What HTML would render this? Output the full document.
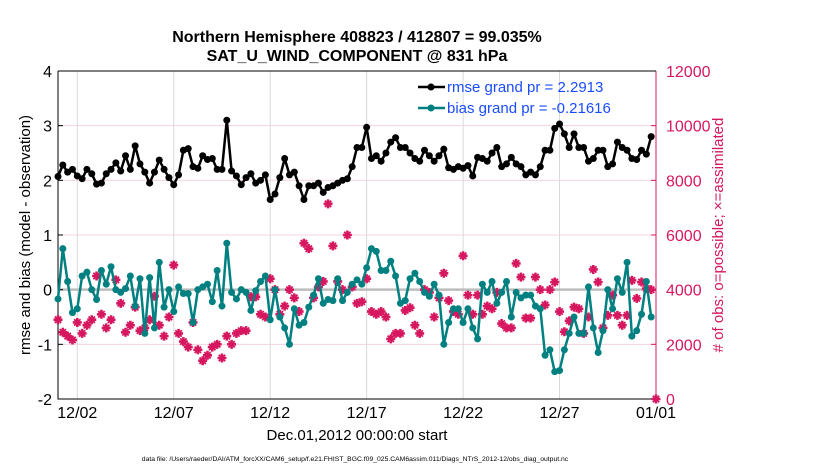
<!DOCTYPE html>
<html><head><meta charset="utf-8">
<style>
body{margin:0;background:#fff;}
svg{display:block;font-family:"Liberation Sans",Arial,sans-serif;}
</style></head>
<body>
<svg id="chart" width="830" height="470" viewBox="0 0 830 470" xmlns="http://www.w3.org/2000/svg">
<rect width="830" height="470" fill="#fff"/>
<g id="grid"></g>
<g id="axes"></g>
<g id="marks"></g>
<text x="357" y="42" text-anchor="middle" font-size="16" font-weight="bold">Northern Hemisphere 408823 / 412807 = 99.035%</text>
<text x="357" y="61" text-anchor="middle" font-size="16" font-weight="bold">SAT_U_WIND_COMPONENT @ 831 hPa</text>
<text x="357" y="440" text-anchor="middle" font-size="15">Dec.01,2012 00:00:00 start</text>
<text transform="translate(30,235) rotate(-90)" text-anchor="middle" font-size="15">rmse and bias (model - observation)</text>
<text transform="translate(723,235) rotate(-90)" text-anchor="middle" font-size="15" fill="#d6175f"># of obs: o=possible; ×=assimilated</text>
<text x="355" y="461" text-anchor="middle" font-size="6.8">data file: /Users/raeder/DAI/ATM_forcXX/CAM6_setup/f.e21.FHIST_BGC.f09_025.CAM6assim.011/Diags_NTrS_2012-12/obs_diag_output.nc</text>
<g>
  <line x1="418" y1="87" x2="445" y2="87" stroke="#000" stroke-width="2.5"/>
  <circle cx="431" cy="87" r="3.5" fill="#000"/>
  <text x="447" y="92" font-size="15" fill="#1a4cff">rmse grand pr = 2.2913</text>
  <line x1="418" y1="108" x2="445" y2="108" stroke="#008080" stroke-width="2.5"/>
  <circle cx="431" cy="108" r="3.5" fill="#008080"/>
  <text x="447" y="113" font-size="15" fill="#1a4cff">bias grand pr = -0.21616</text>
</g>
</svg>
<script>
const dateTicks = ["12/02","12/07","12/12","12/17","12/22","12/27","01/01"];
const dateTickDays = [1,6,11,16,21,26,31];
const leftTicks = [4,3,2,1,0,-1,-2];
const rightTicks = [12000,10000,8000,6000,4000,2000,0];
const rmse = [2.07,2.28,2.15,2.2,2.08,2.03,2.2,2.12,1.93,1.95,2.12,2.2,2.32,2.17,2.45,2.2,2.63,2.3,2.15,1.95,2.15,2.37,2.2,2.05,1.92,2.1,2.55,2.58,2.25,2.22,2.45,2.38,2.4,2.2,2.2,3.1,2.17,2.08,1.92,2.05,2.12,1.95,
2.0,2.1,1.65,1.75,2.05,2.4,2.1,2.15,1.9,1.65,1.9,1.9,1.95,1.78,1.87,1.9,1.95,2.0,2.03,2.25,2.6,2.6,2.97,2.4,2.45,2.35,2.5,2.7,2.78,2.6,2.6,2.5,2.4,2.35,2.55,2.45,2.35,2.45,2.57,2.23,2.2,2.25,
2.22,2.27,2.08,2.42,2.4,2.35,2.5,2.6,2.25,2.3,2.42,2.3,2.25,2.1,2.15,2.1,2.25,2.55,2.55,2.95,3.03,2.85,2.6,2.85,2.6,2.6,2.35,2.4,2.55,2.55,2.25,2.3,2.7,2.6,2.55,2.4,2.38,2.55,2.48,2.8];
const bias = [-0.17,0.75,0.15,-0.42,-0.35,0.25,0.32,0.0,-0.18,0.35,0.1,0.42,0.0,-0.05,0.02,0.25,-0.3,0.2,-0.8,0.22,-0.7,0.5,-0.32,0.0,-0.4,0.05,-0.07,-0.07,-0.6,0.0,0.05,0.1,-0.22,0.35,-0.3,0.85,-0.05,-0.17,0.0,-0.05,-0.38,-0.02,
0.15,0.25,-0.55,0.0,-0.5,-0.7,-1.0,-0.35,-0.65,-0.6,-0.32,-0.1,0.2,-0.25,-0.18,-0.2,0.2,-0.2,-0.05,0.1,0.18,0.1,0.4,0.75,0.7,0.35,0.35,0.52,0.25,-0.25,-0.2,0.2,0.3,0.15,-0.05,-0.12,0.1,-0.1,-1.0,-0.6,-0.35,-0.35,
-0.6,-0.35,-0.7,-0.9,0.1,-0.05,0.15,-0.25,-0.05,0.15,-0.5,-0.05,-0.15,-0.1,-0.1,-0.3,-0.35,-1.2,-1.1,-1.5,-1.48,-1.1,-0.8,-0.5,-0.8,-0.8,0.05,-0.7,-1.15,-0.75,0.0,-0.35,0.2,-0.05,0.5,-0.85,-0.75,-0.45,0.15,-0.5];
const nobs = [2900,2440,2300,2160,2800,2400,2700,2900,4500,3100,2600,2900,4360,3500,2440,2700,3360,2500,2600,2900,3760,2700,2300,3000,4900,2400,2100,1900,2800,1800,1400,1600,1900,2000,1500,2300,2000,2400,2500,2500,3740,3740,
3100,3000,4400,4000,3100,3400,4000,3700,3200,5700,5500,3700,4100,4300,7140,5600,4300,4000,6000,4100,3500,3560,4400,3200,3100,3200,3000,2200,2400,2400,3240,3340,2700,2400,4000,3900,3000,3700,4600,3600,3200,3100,
5240,3800,3100,3800,3100,3400,3300,3900,2760,2600,2600,4960,4460,2960,2960,4460,4000,3440,4000,4280,3200,2460,2860,3360,3300,2400,3000,4740,4280,2600,3060,3800,3060,2700,3060,4340,3680,4280,4040,4000,0];

const X0=58, X1=656, Y0=71, Y1=399;
const xOf = i => X0 + (i/4)*(X1-X0)/31;
const xDay = d => X0 + d*(X1-X0)/31;
const yL = v => Y1 - (v+2)*(Y1-Y0)/6;
const yR = n => Y1 - n*(Y1-Y0)/12000;
const NS="http://www.w3.org/2000/svg";
function mk(tag, attrs, parent){const e=document.createElementNS(NS,tag);for(const k in attrs)e.setAttribute(k,attrs[k]);parent.appendChild(e);return e;}
const grid=document.getElementById('grid'), axes=document.getElementById('axes'), marks=document.getElementById('marks');

leftTicks.forEach(v=>{
  const gl=mk('line',{x1:X0,x2:X1,y1:yL(v),y2:yL(v),stroke:'#f5d3de','stroke-width':1},grid);
  
  
  const t=mk('text',{x:X0-6,y:yL(v)+6,'text-anchor':'end','font-size':16},axes);
  t.textContent=v;
  
  
  mk('line',{x1:X0,x2:X0+5,y1:yL(v),y2:yL(v),stroke:'#000'},axes);
});
rightTicks.forEach(n=>{
  const t=mk('text',{x:X1+10,y:yR(n)+6,'font-size':16,fill:'#d6175f'},axes);
  t.textContent=n;
  
  
  mk('line',{x1:X1-5,x2:X1,y1:yR(n),y2:yR(n),stroke:'#d6175f'},axes);
});
dateTicks.forEach((lab,k)=>{
  const x=xDay(dateTickDays[k]);
  const gl=mk('line',{x1:x,x2:x,y1:Y0,y2:Y1,stroke:'#d9d9d9','stroke-width':1},grid);
  
  
  const t=mk('text',{x:x,y:418,'text-anchor':'middle','font-size':16},axes);
  t.textContent=lab;
  
  
});
const zl=mk('line',{x1:X0,x2:X1,y1:yL(0),y2:yL(0),stroke:'#bdbdbd','stroke-width':2.5},grid);


const ax=mk('path',{d:`M${X0},${Y0}V${Y1}H${X1}`,fill:'none',stroke:'#000','stroke-width':1},axes);


const ar=mk('line',{x1:X1,x2:X1,y1:Y0,y2:Y1,stroke:'#d6175f','stroke-width':1},axes);


mk('line',{x1:X0,x2:X1,y1:Y0,y2:Y0,stroke:'#000','stroke-width':1},axes);

nobs.forEach((n,i)=>{
  const x=xOf(i), y=yR(n);
  const g=mk('g',{transform:`translate(${x},${y})`,fill:'none',stroke:'#d6175f'},marks);
  
  
  mk('path',{d:'M-4.5,0H4.5M0,-4.5V4.5','stroke-width':2.6},g);
  mk('path',{d:'M-3.2,-3.2L3.2,3.2M-3.2,3.2L3.2,-3.2','stroke-width':1.8},g);
});
function series(arr,color,name){
  const d=arr.map((v,i)=>(i?'L':'M')+xOf(i).toFixed(1)+','+yL(v).toFixed(1)).join('');
  const p=mk('path',{d:d,fill:'none',stroke:color,'stroke-width':2.5,'stroke-linejoin':'round'},marks);
  
  
  arr.forEach((v,i)=>{
    const c=mk('circle',{cx:xOf(i),cy:yL(v),r:3.5,fill:color},marks);
    
    
  });
}
series(bias,'#008080','bias');
series(rmse,'#000','rmse');
</script>
</body></html>
